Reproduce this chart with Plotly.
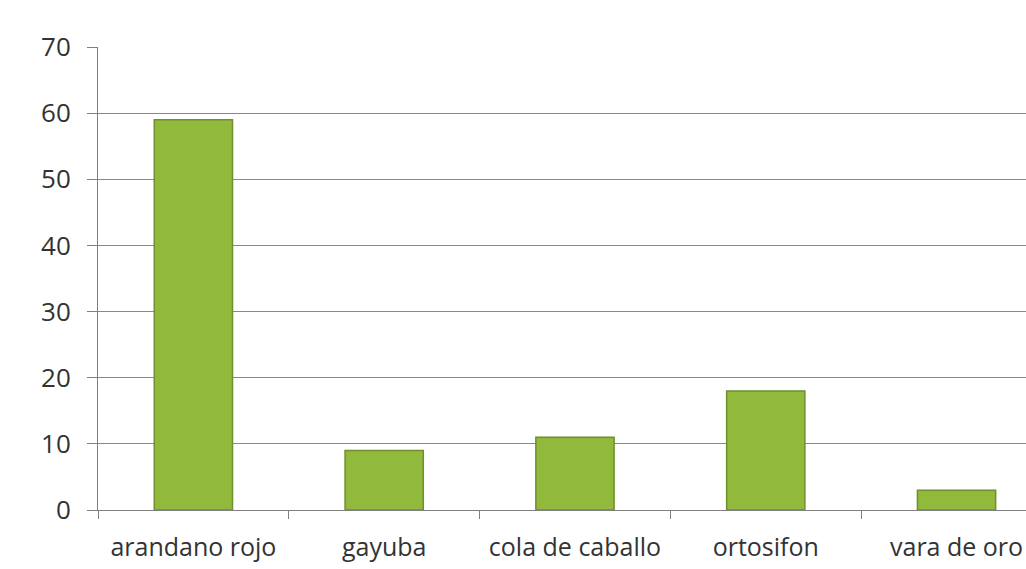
import plotly.graph_objects as go

categories = ["arandano rojo", "gayuba", "cola de caballo", "ortosifon", "vara de oro"]
values = [59, 9, 11, 18, 3]
y_ticks = [0, 10, 20, 30, 40, 50, 60, 70]

fig = go.Figure(
    go.Bar(
        x=categories,
        y=values,
        width=0.41,
        marker=dict(color="#91ba3c", line=dict(color="#6f8f2c", width=1.5)),
    )
)

fig.update_layout(
    width=1026,
    height=569,
    margin=dict(l=98, r=0, t=47, b=59),
    plot_bgcolor="white",
    paper_bgcolor="white",
    showlegend=False,
    font=dict(family="Open Sans, Liberation Sans, sans-serif", color="#333333"),
)

fig.update_xaxes(
    type="category",
    range=[-0.5, 4.364],
    automargin=False,
    tickson="boundaries",
    ticks="outside",
    ticklen=8,
    tickcolor="#808080",
    showline=True,
    linecolor="#808080",
    linewidth=1,
    showgrid=False,
    tickfont=dict(size=25, color="#333333"),
    ticklabelstandoff=15,
)

fig.update_yaxes(
    range=[0, 70.02],
    automargin=False,
    tickvals=y_ticks,
    ticks="outside",
    ticklen=10,
    tickcolor="#808080",
    showline=True,
    linecolor="#808080",
    linewidth=1,
    showgrid=True,
    gridcolor="#888888",
    gridwidth=1,
    zeroline=False,
    tickfont=dict(size=26, color="#333333"),
    ticklabelstandoff=11,
)

fig.write_html(
    "out.html",
    config={"displayModeBar": False},
    post_script="document.body.style.margin='0';document.body.style.overflow='hidden';",
)
